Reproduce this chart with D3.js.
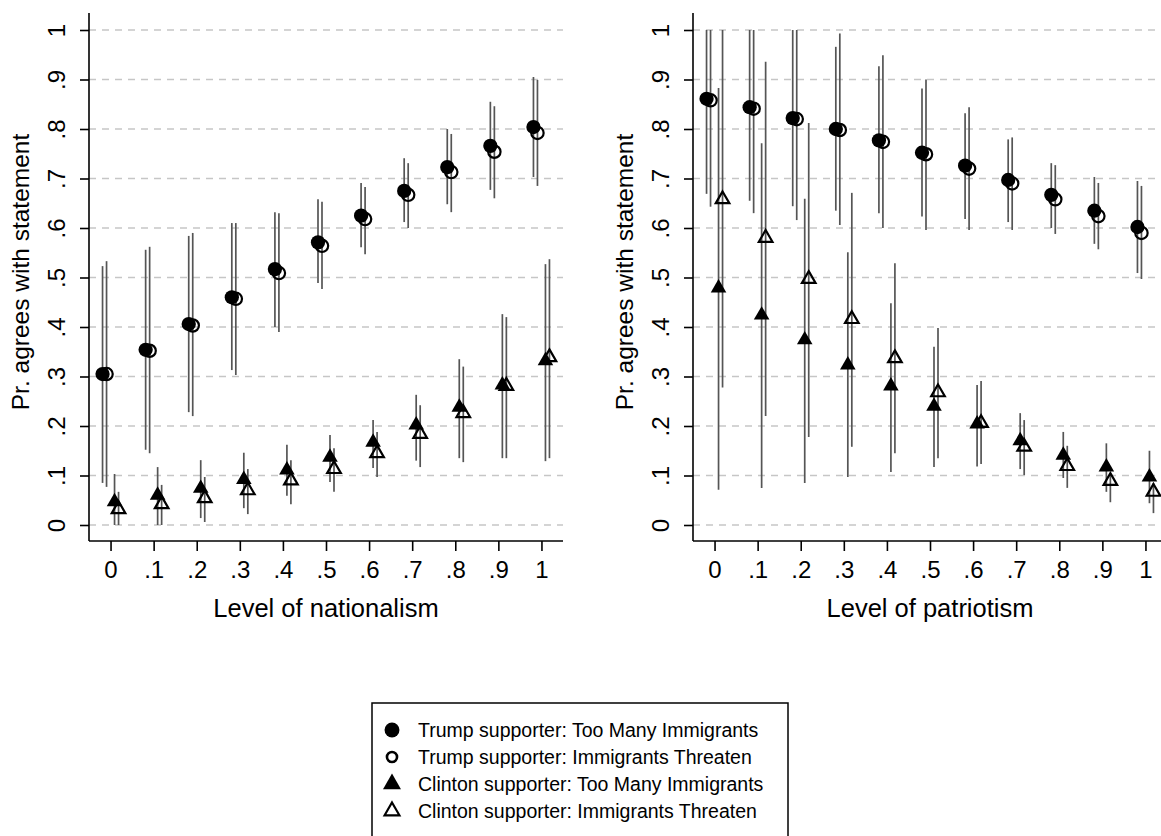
<!DOCTYPE html>
<html>
<head>
<meta charset="utf-8">
<title>Nationalism, patriotism and immigration attitudes</title>
<script src="https://cdn.jsdelivr.net/npm/d3@7"></script>
<style>
body { margin: 0; background: #fff; }
text { font-family: "Liberation Sans", Arial, sans-serif; fill: #000; }
</style>
</head>
<body>
<script>
// x levels and tick labels (same for both panels)
var levels = [0, .1, .2, .3, .4, .5, .6, .7, .8, .9, 1];
var levelLabels = ["0", ".1", ".2", ".3", ".4", ".5", ".6", ".7", ".8", ".9", "1"];
var yTicks = [0, .1, .2, .3, .4, .5, .6, .7, .8, .9, 1];
var yLabels = ["0", ".1", ".2", ".3", ".4", ".5", ".6", ".7", ".8", ".9", "1"];

var seriesNames = [
  "Trump supporter: Too Many Immigrants",
  "Trump supporter: Immigrants Threaten",
  "Clinton supporter: Too Many Immigrants",
  "Clinton supporter: Immigrants Threaten"
];

// [estimate, lower, upper] for each level
var natTrumpMany = [[.305,.085,.523],[.354,.152,.556],[.406,.228,.584],[.46,.313,.61],[.517,.40,.632],[.571,.489,.658],
  [.625,.561,.691],[.675,.612,.741],[.723,.648,.80],[.766,.677,.855],[.804,.703,.905]];
var natTrumpThreat = [[.305,.077,.533],[.352,.145,.562],[.403,.22,.59],[.457,.303,.61],[.509,.39,.63],[.564,.477,.653],
  [.618,.547,.683],[.667,.60,.731],[.713,.632,.79],[.754,.66,.846],[.792,.685,.899]];
var natClintonMany = [[.047,0,.103],[.06,0,.117],[.074,.014,.131],[.092,.034,.146],[.111,.059,.162],[.137,.087,.182],
  [.167,.115,.212],[.202,.13,.263],[.238,.135,.335],[.283,.135,.426],[.332,.129,.527]];
var natClintonThreat = [[.032,0,.067],[.042,0,.081],[.054,.006,.097],[.07,.022,.113],[.09,.042,.131],[.113,.067,.155],
  [.145,.097,.188],[.184,.117,.242],[.226,.127,.32],[.281,.135,.42],[.339,.135,.537]];

var patTrumpMany = [[.861,.669,1],[.844,.655,1],[.822,.644,1],[.80,.635,.966],[.777,.63,.927],[.752,.623,.882],
  [.726,.618,.832],[.697,.612,.779],[.667,.60,.731],[.635,.568,.703],[.602,.509,.695]];
var patTrumpThreat = [[.858,.643,1],[.841,.63,1],[.82,.616,1],[.798,.606,.993],[.774,.60,.949],[.749,.596,.90],
  [.72,.596,.844],[.69,.596,.783],[.658,.588,.727],[.624,.557,.691],[.59,.497,.685]];
var patClintonMany = [[.479,.071,.883],[.424,.075,.771],[.374,.085,.659],[.323,.097,.551],[.281,.107,.448],[.24,.117,.36],
  [.204,.118,.283],[.17,.113,.226],[.141,.095,.188],[.117,.067,.165],[.097,.044,.15]];
var patClintonThreat = [[.658,.278,1],[.58,.22,.936],[.497,.178,.812],[.416,.158,.671],[.337,.145,.529],[.268,.135,.398],
  [.206,.123,.291],[.158,.101,.212],[.119,.075,.16],[.089,.046,.103],[.067,.024,.085]];

var W = 1161, H = 836;
var svg = d3.select("body").append("svg")
  .attr("width", W).attr("height", H);

// marker styles per series: filled circle, hollow circle, filled triangle, hollow triangle
var shapes = [
  {type: d3.symbolCircle, size: 160, fill: "#000", stroke: "none", sw: 0, dx: -8},
  {type: d3.symbolCircle, size: 120, fill: "none", stroke: "#000", sw: 2.2, dx: -4},
  {type: d3.symbolTriangle, size: 105, fill: "#000", stroke: "none", sw: 0, dx: 4},
  {type: d3.symbolTriangle, size: 80, fill: "none", stroke: "#000", sw: 2.2, dx: 8}
];

var y = d3.scaleLinear().domain([0, 1]).range([525, 30]);

function drawPanel(left, xTitle, series) {
  var right = left + 474;
  var x = d3.scaleLinear().domain([-0.05, 1.05]).range([left, right]);
  var g = svg.append("g");

  // dashed grid
  g.selectAll(".grid").data(yTicks).enter().append("line")
    .attr("x1", left).attr("x2", right)
    .attr("y1", function(d){ return y(d); }).attr("y2", function(d){ return y(d); })
    .attr("stroke", "#c6c6c6").attr("stroke-width", 1.5)
    .attr("stroke-dasharray", "7,6");

  // error bars first
  series.forEach(function(s, k) {
    g.selectAll(".ci" + k).data(s).enter().append("line")
      .attr("x1", function(d, i){ return x(levels[i]) + shapes[k].dx; })
      .attr("x2", function(d, i){ return x(levels[i]) + shapes[k].dx; })
      .attr("y1", function(d){ return y(d[1]); })
      .attr("y2", function(d){ return y(d[2]); })
      .attr("stroke", "#555").attr("stroke-width", 1.7);
  });

  // markers
  series.forEach(function(s, k) {
    var sh = shapes[k];
    g.selectAll(".pt" + k).data(s).enter().append("path")
      .attr("d", d3.symbol().type(sh.type).size(sh.size))
      .attr("transform", function(d, i){ return "translate(" + (x(levels[i]) + sh.dx) + "," + y(d[0]) + ")"; })
      .attr("fill", sh.fill).attr("stroke", sh.stroke).attr("stroke-width", sh.sw);
  });

  // y axis
  var ya = g.append("g").attr("transform", "translate(" + left + ",0)")
    .call(d3.axisLeft(y).tickValues(yTicks).tickSize(9).tickFormat(function(d, i){ return yLabels[i]; }));
  ya.select(".domain").attr("d", "M0," + 13 + "V541").attr("stroke-width", 1.6);
  ya.selectAll(".tick line").attr("stroke-width", 1.6);
  ya.selectAll(".tick text")
    .attr("font-size", 24).attr("text-anchor", "middle")
    .attr("x", null)
    .attr("transform", "translate(-32,0) rotate(-90)")
    .attr("dy", "0.35em");

  // x axis
  var xa = g.append("g").attr("transform", "translate(0,541)")
    .call(d3.axisBottom(x).tickValues(levels).tickSize(10).tickFormat(function(d, i){ return levelLabels[i]; }));
  xa.select(".domain").attr("d", "M" + left + ",0H" + right).attr("stroke-width", 1.6);
  xa.selectAll(".tick line").attr("stroke-width", 1.6);
  xa.selectAll(".tick text").attr("font-size", 24).attr("y", 29).attr("dy", "0.35em");

  svg.append("text")
    .attr("transform", "translate(" + (left - 69) + ",272) rotate(-90)")
    .attr("text-anchor", "middle").attr("dy", "0.35em")
    .attr("font-size", 24.5)
    .text("Pr. agrees with statement");

  svg.append("text")
    .attr("x", (left + right) / 2).attr("y", 608)
    .attr("text-anchor", "middle").attr("dy", "0.35em")
    .attr("font-size", 25.5)
    .text(xTitle);
}

drawPanel(89, "Level of nationalism", [natTrumpMany, natTrumpThreat, natClintonMany, natClintonThreat]);
drawPanel(693, "Level of patriotism", [patTrumpMany, patTrumpThreat, patClintonMany, patClintonThreat]);

// legend
var lg = svg.append("g");
lg.append("rect").attr("x", 372).attr("y", 703).attr("width", 416).attr("height", 150)
  .attr("fill", "#fff").attr("stroke", "#000").attr("stroke-width", 1.5);

var legShapes = [
  {type: d3.symbolCircle, size: 175, fill: "#000", stroke: "none", sw: 0},
  {type: d3.symbolCircle, size: 80, fill: "none", stroke: "#000", sw: 2.6},
  {type: d3.symbolTriangle, size: 140, fill: "#000", stroke: "none", sw: 0},
  {type: d3.symbolTriangle, size: 95, fill: "none", stroke: "#000", sw: 2.2}
];
seriesNames.forEach(function(name, i) {
  var ly = 730 + i * 27;
  var sh = legShapes[i];
  lg.append("path")
    .attr("d", d3.symbol().type(sh.type).size(sh.size))
    .attr("transform", "translate(392," + ly + ")")
    .attr("fill", sh.fill).attr("stroke", sh.stroke).attr("stroke-width", sh.sw);
  lg.append("text").attr("x", 418).attr("y", ly).attr("dy", "0.35em")
    .attr("font-size", 19.5).text(name);
});
</script>
</body>
</html>
